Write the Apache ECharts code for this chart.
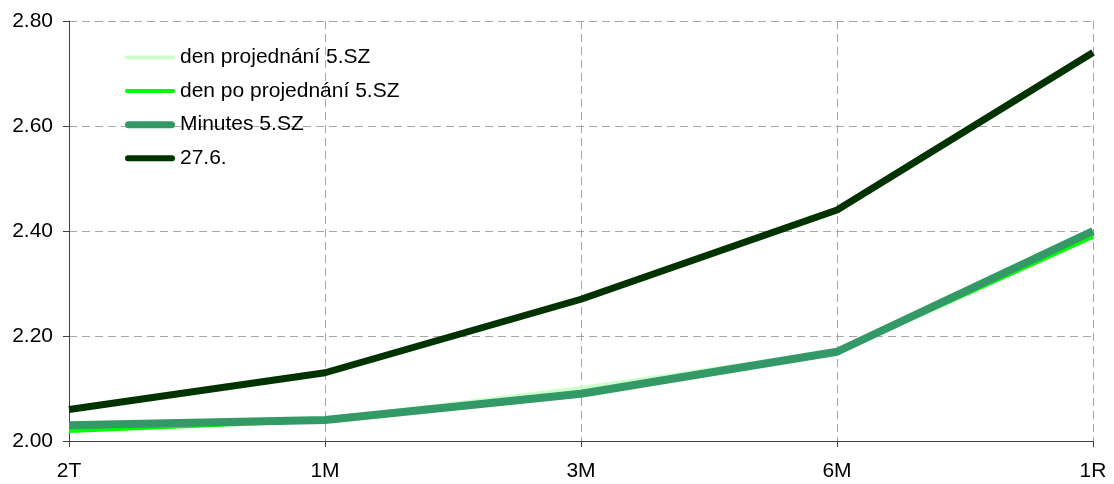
<!DOCTYPE html>
<html>
<head>
<meta charset="utf-8">
<script src="https://cdn.jsdelivr.net/npm/echarts@6/dist/echarts.min.js"></script>
<style>
  html, body { margin: 0; padding: 0; background: #ffffff; }
  #chart { width: 1114px; height: 484px; }
</style>
</head>
<body>
<div id="chart"></div>
<script>
// Maturity buckets on the horizontal axis
const categories = ['2T', '1M', '3M', '6M', '1R'];

// Rate curves (per cent)
const denProjednani = [2.03, 2.04, 2.10, 2.17, 2.40];
const denPoProjednani = [2.02, 2.04, 2.09, 2.17, 2.39];
const minutes = [2.03, 2.04, 2.09, 2.17, 2.40];
const junior27 = [2.06, 2.13, 2.27, 2.44, 2.74];

const seriesNames = ['den projednání 5.SZ', 'den po projednání 5.SZ', 'Minutes 5.SZ', '27.6.'];
const yTicks = { min: 2.0, max: 2.8, interval: 0.2 };

const font = 'Liberation Sans, Arial, sans-serif';
const colors = ['#ccffcc', '#00ff00', '#339966', '#003300'];
const widths = [5, 5, 8, 7];

// Legend swatch: a round-capped bar of the given thickness inside a fixed 50x14 box
function capsuleIcon(t) {
  const top = 7 - t / 2, bottom = 7 + t / 2, r = t / 2;
  return 'path://M0,0 M50,14 M' + r + ',' + top +
    ' L' + (50 - r) + ',' + top +
    ' A' + r + ',' + r + ' 0 0 1 ' + (50 - r) + ',' + bottom +
    ' L' + r + ',' + bottom +
    ' A' + r + ',' + r + ' 0 0 1 ' + r + ',' + top + ' Z';
}

const chart = echarts.init(document.getElementById('chart'), null, { renderer: 'canvas' });

function lineSeries(i, data) {
  return {
    name: seriesNames[i],
    type: 'line',
    data: data,
    symbol: 'none',
    showSymbol: false,
    smooth: false,
    animation: false,
    lineStyle: { color: colors[i], width: widths[i], cap: 'butt', join: 'round' },
    itemStyle: { color: colors[i] }
  };
}

chart.setOption({
  animation: false,
  backgroundColor: '#ffffff',
  grid: { left: 69, right: 21, top: 21, bottom: 43, containLabel: false },
  legend: {
    orient: 'vertical',
    left: 120,
    top: 42,
    itemWidth: 50,
    itemHeight: 14,
    itemGap: 12.6,
    textStyle: { fontFamily: font, fontSize: 21, color: '#000000' },
    data: seriesNames.map((n, i) => ({
      name: n,
      icon: capsuleIcon(widths[i] - 1),
      itemStyle: { color: colors[i], borderWidth: 0 }
    }))
  },
  xAxis: {
    type: 'category',
    data: categories,
    boundaryGap: false,
    axisLine: { show: true, lineStyle: { color: '#404040', width: 1 } },
    axisTick: { show: true, alignWithLabel: true, length: 6, lineStyle: { color: '#404040' } },
    axisLabel: { fontFamily: font, fontSize: 21, color: '#000000', margin: 20 },
    splitLine: { show: true, lineStyle: { color: '#a6a6a6', type: [8, 5], width: 1 } }
  },
  yAxis: {
    type: 'value',
    min: yTicks.min,
    max: yTicks.max,
    interval: yTicks.interval,
    axisLine: { show: true, lineStyle: { color: '#404040', width: 1 } },
    axisTick: { show: true, length: 6, lineStyle: { color: '#404040' } },
    axisLabel: {
      fontFamily: font, fontSize: 21, color: '#000000', margin: 16,
      formatter: v => v.toFixed(2)
    },
    splitLine: { show: true, lineStyle: { color: '#a6a6a6', type: [8, 5], width: 1 } }
  },
  series: [
    lineSeries(0, denProjednani),
    lineSeries(1, denPoProjednani),
    lineSeries(2, minutes),
    lineSeries(3, junior27)
  ]
});
</script>
</body>
</html>
